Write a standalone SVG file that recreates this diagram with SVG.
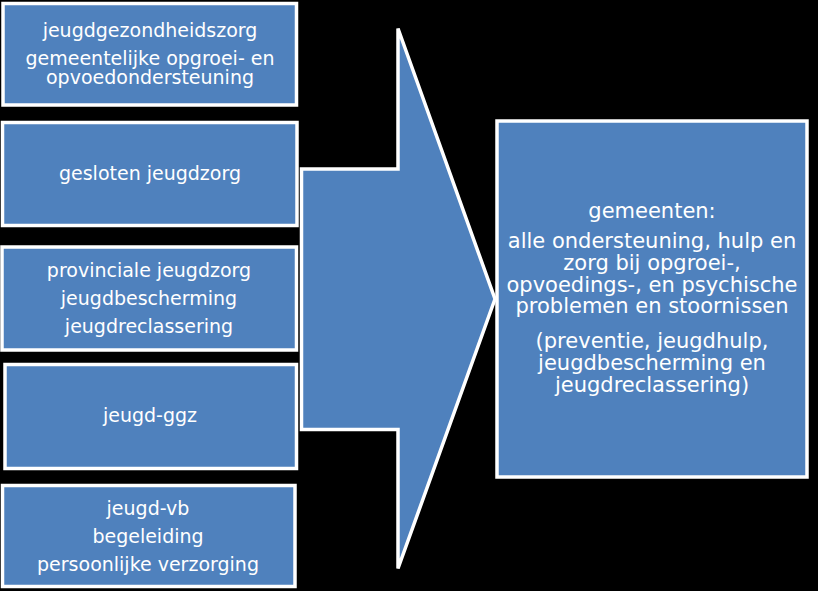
<svg xmlns="http://www.w3.org/2000/svg" width="818" height="591" viewBox="0 0 818 591">
<style>
.box{fill:#4F81BD;stroke:#FFFFFF;stroke-width:3.5}
.t{font-family:"DejaVu Sans","Verdana",sans-serif;font-size:19px;fill:#FFFFFF;text-anchor:middle}
.tr{font-family:"DejaVu Sans","Verdana",sans-serif;font-size:21px;fill:#FFFFFF;text-anchor:middle}
</style>
<rect x="0" y="0" width="818" height="591" fill="#000000"/>
<g id="connectors">
<polygon class="box" points="301.5,169 398,169 398,28.5 495,299 398,568.5 398,429.5 301.5,429.5"/>
</g>
<g id="node1">
<rect class="box" x="3" y="3.5" width="293.5" height="101.5"/>
<text class="t" x="150" y="36.5">jeugdgezondheidszorg</text>
<text class="t" x="150" y="64.5">gemeentelijke opgroei- en</text>
<text class="t" x="150" y="83.5">opvoedondersteuning</text>
</g>
<g id="node2">
<rect class="box" x="2.5" y="122.5" width="294.5" height="103"/>
<text class="t" x="150" y="180">gesloten jeugdzorg</text>
</g>
<g id="node3">
<rect class="box" x="2" y="247" width="294.5" height="103"/>
<text class="t" x="149" y="276.7">provinciale jeugdzorg</text>
<text class="t" x="149" y="305">jeugdbescherming</text>
<text class="t" x="149" y="333.3">jeugdreclassering</text>
</g>
<g id="node4">
<rect class="box" x="5" y="364.5" width="291.5" height="104"/>
<text class="t" x="150" y="421.7">jeugd-ggz</text>
</g>
<g id="node5">
<rect class="box" x="2.5" y="485.5" width="292.5" height="101"/>
<text class="t" x="148" y="515">jeugd-vb</text>
<text class="t" x="148" y="542.7">begeleiding</text>
<text class="t" x="148" y="570.7">persoonlijke verzorging</text>
</g>
<g id="node6">
<rect class="box" x="497" y="121" width="310" height="356"/>
<text class="tr" x="652" y="218.3">gemeenten:</text>
<text class="tr" x="652" y="248.3">alle ondersteuning, hulp en</text>
<text class="tr" x="652" y="270">zorg bij opgroei-,</text>
<text class="tr" x="652" y="291.7">opvoedings-, en psychische</text>
<text class="tr" x="652" y="313.3">problemen en stoornissen</text>
<text class="tr" x="652" y="348.3">(preventie, jeugdhulp,</text>
<text class="tr" x="652" y="370">jeugdbescherming en</text>
<text class="tr" x="652" y="391.7">jeugdreclassering)</text>
</g>
</svg>
